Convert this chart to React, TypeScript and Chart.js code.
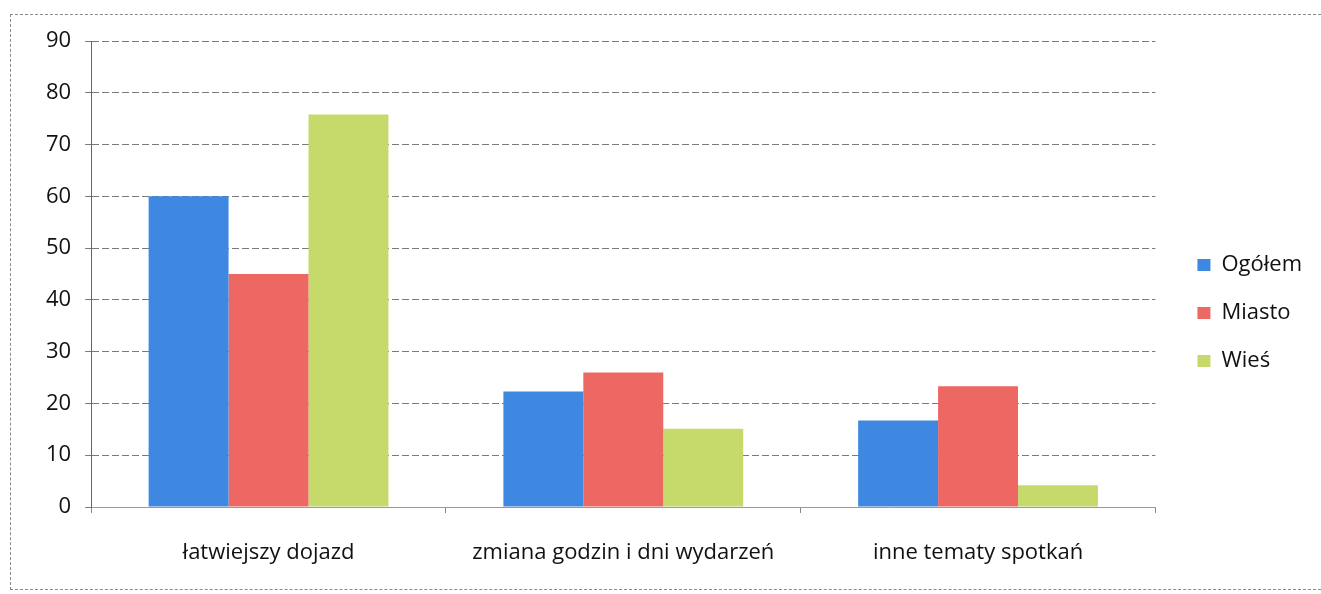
import React, { useEffect, useRef } from "react";
import { Chart, registerables } from "chart.js";

Chart.register(...registerables);

const categories = ["łatwiejszy dojazd", "zmiana godzin i dni wydarzeń", "inne tematy spotkań"];
const ogolem = [60, 22.3, 16.7];
const miasto = [45, 26, 23.3];
const wies = [75.8, 15.1, 4.2];
const seriesNames = ["Ogółem", "Miasto", "Wieś"];
const seriesColors = ["#3f88e2", "#ee6863", "#c6da6c"];

export default function App() {
  const ref = useRef<HTMLCanvasElement | null>(null);
  useEffect(() => {
    if (!ref.current) return;
    const font = { family: "Open Sans", size: 22 };
    const chart = new Chart(ref.current, {
      type: "bar",
      data: {
        labels: categories,
        datasets: [ogolem, miasto, wies].map((d, i) => ({
          label: seriesNames[i],
          data: d,
          backgroundColor: seriesColors[i],
          borderWidth: 0,
          barPercentage: 1,
          categoryPercentage: 0.676,
          yAxisID: "y",
        })),
      },
      options: {
        animation: false,
        responsive: false,
        maintainAspectRatio: false,
        layout: { padding: { left: 23, top: 32, right: 0, bottom: 0 } },
        plugins: {
          tooltip: { enabled: false },
          legend: {
            position: "right",
            maxWidth: 141,
            labels: {
              boxWidth: 13,
              boxHeight: 12,
              padding: 26,
              color: "#111",
              font,
            },
          },
        },
        scales: {
          x: {
            grid: {
              offset: true,
              drawOnChartArea: false,
              drawTicks: true,
              tickLength: 6,
              color: "#888",
            },
            border: { color: "#999", width: 1 },
            ticks: { color: "#111", font, padding: 27 },
            afterFit: (scale: any) => {
              scale.height = 78;
            },
          },
          y: {
            min: 0,
            max: 90,
            ticks: { stepSize: 10, color: "#111", font, padding: 14 },
            grid: { color: "#7a7a7a", tickLength: 6, lineWidth: 1 },
            border: { color: "#666", width: 1, dash: [7, 3] },
          },
          yR: {
            type: "linear",
            position: "right",
            display: true,
            grid: { display: false },
            border: { display: false },
            ticks: { display: false },
            afterFit: (scale: any) => {
              scale.width = 16;
            },
          },
        },
      },
    });
    return () => chart.destroy();
  }, []);
  return (
    <div style={{ width: 1305, height: 578, position: "relative" }}>
      <div
        style={{
          position: "fixed",
          left: 10,
          top: 14,
          width: 1311,
          height: 576,
          borderTop: "1px dashed #8a8a8a",
          borderLeft: "1px dashed #8a8a8a",
          borderBottom: "1px dashed #8a8a8a",
          boxSizing: "border-box",
          pointerEvents: "none",
        }}
      />
      <div style={{ position: "absolute", left: 1, top: 1 }}>
        <canvas ref={ref} width={1303} height={576} />
      </div>
    </div>
  );
}
